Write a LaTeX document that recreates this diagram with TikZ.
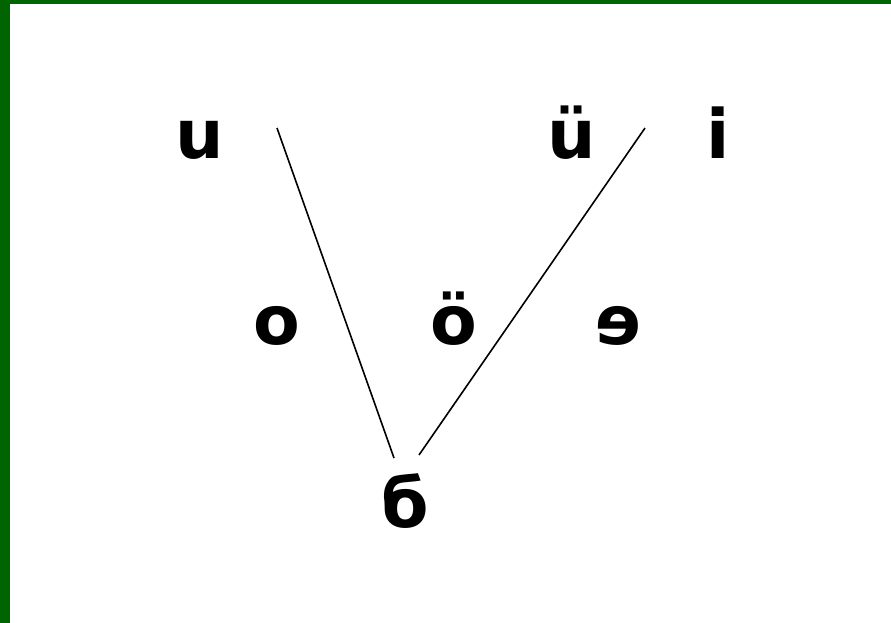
\documentclass[tikz,border=0pt]{standalone}
\usepackage{fontspec}
\setmainfont{DejaVu Sans}
\newfontfamily\vfont{DejaVu Sans Bold}
\definecolor{frame}{HTML}{006400}
\begin{document}
\begin{tikzpicture}[x=1pt,y=-1pt,
  vowel/.style={inner sep=0pt,anchor=base,font=\vfont\fontsize{68}{68}\selectfont},
  stroke/.style={line width=1.6pt,black}]
\useasboundingbox (0,0) rectangle (891,623);
\fill[white] (0,0) rectangle (891,623);
\fill[frame] (0,0) rectangle (10,623);
\fill[frame] (0,0) rectangle (891,4);
\node[vowel] (u) at (200,158) {u};
\node[vowel] (ue) at (572,158) {ü};
\node[vowel] (i) at (718,158) {i};
\node[vowel] (o) at (277,344) {o};
\node[vowel] (oe) at (454,344) {ö};
\node[vowel] (e) at (619,344) {ɘ};
\node[vowel] (b) at (405,527) {б};
\coordinate (l1) at (277,128);
\coordinate (l2) at (394,458);
\coordinate (r1) at (645,128);
\coordinate (r2) at (419,455);
\draw[stroke] (l1) -- (l2);
\draw[stroke] (r1) -- (r2);
\end{tikzpicture}
\end{document}
